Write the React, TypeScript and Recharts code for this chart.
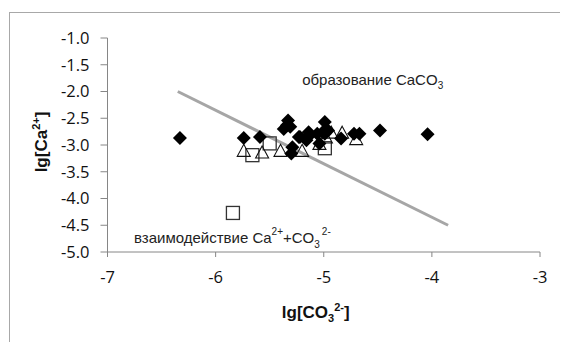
import React from 'react';
import { ScatterChart, Scatter, XAxis, YAxis, Label } from 'recharts';

const xTicks = [-7, -6, -5, -4, -3];
const yTicks = [-5.0, -4.5, -4.0, -3.5, -3.0, -2.5, -2.0, -1.5, -1.0];

const diamondX = [-6.33, -5.74, -5.59, -5.37, -5.34, -5.33, -5.31, -5.29, -5.30, -5.23, -5.22, -5.14, -5.13, -5.16, -5.06, -5.04, -4.99, -5.01, -4.96, -4.99, -4.84, -4.72, -4.67, -4.48, -4.04];
const diamondY = [-2.87, -2.87, -2.85, -2.70, -2.63, -2.54, -2.66, -3.04, -3.16, -2.85, -2.85, -2.76, -2.82, -2.91, -2.79, -2.97, -2.57, -2.76, -2.73, -2.79, -2.88, -2.79, -2.79, -2.73, -2.80];

const triangleX = [-5.74, -5.57, -5.40, -5.20, -5.04, -4.98, -4.93, -4.83, -4.70];
const triangleY = [-3.10, -3.13, -3.10, -3.10, -2.97, -2.85, -2.76, -2.76, -2.88];

const squareX = [-5.66, -5.50, -4.99, -5.84];
const squareY = [-3.19, -2.97, -3.06, -4.27];

const lineX = [-6.35, -3.85];
const lineY = [-2.0, -4.5];

const annotationX = [-5.2, -6.755];
const annotationY = [-1.88, -4.83];
const annotationKey = ['formation', 'interaction'];

const zip = (xs: number[], ys: number[]) => xs.map((x, i) => ({ x, y: ys[i] }));

const diamonds = zip(diamondX, diamondY);
const triangles = zip(triangleX, triangleY);
const squares = zip(squareX, squareY);
const lineData = zip(lineX, lineY);
const annotations = annotationX.map((x, i) => ({ x, y: annotationY[i], key: annotationKey[i] }));

const TICK_FONT = '"Open Sans", sans-serif';
const TITLE_FONT = '"Liberation Sans", Arial, sans-serif';
const ANNO_FONT = '"Liberation Sans", Arial, sans-serif';

const DiamondShape = (p: any) => {
  const { cx, cy } = p;
  const r = 7;
  return <path d={`M${cx},${cy - r}L${cx + r},${cy}L${cx},${cy + r}L${cx - r},${cy}Z`} fill="#000" />;
};

const TriangleShape = (p: any) => {
  const { cx, cy } = p;
  const w = 6.5;
  const h = 12;
  return (
    <path
      d={`M${cx},${cy - h / 2}L${cx + w},${cy + h / 2}L${cx - w},${cy + h / 2}Z`}
      fill="none"
      stroke="#111"
      strokeWidth={1.1}
    />
  );
};

const SquareShape = (p: any) => {
  const { cx, cy } = p;
  const s = 6.5;
  return <rect x={cx - s} y={cy - s} width={2 * s} height={2 * s} fill="none" stroke="#333" strokeWidth={1.3} />;
};

const AnnotationShape = (p: any) => {
  const { cx, cy, payload } = p;
  if (payload.key === 'formation') {
    return (
      <text x={cx} y={cy} fontFamily={ANNO_FONT} fontSize={15} fill="#222">
        образование CaCO<tspan dy={4} fontSize={10}>3</tspan>
      </text>
    );
  }
  return (
    <text x={cx} y={cy} fontFamily={ANNO_FONT} fontSize={15} fill="#222">
      взаимодействие Ca<tspan dy={-8} fontSize={10}>2+</tspan>
      <tspan dy={8} fontSize={15}>+CO</tspan>
      <tspan dy={5} fontSize={10}>3</tspan>
      <tspan dy={-13} dx={2} fontSize={10}>2-</tspan>
    </text>
  );
};

const XTitle = (props: any) => {
  const vb = props.viewBox;
  const x = vb.x + vb.width / 2 - 8;
  const y = vb.y + 66;
  return (
    <text x={x} y={y} textAnchor="middle" fontFamily={TITLE_FONT} fontWeight="bold" fontSize={17} fill="#111">
      lg[CO<tspan dy={4} fontSize={11}>3</tspan>
      <tspan dy={-11} fontSize={11}>2-</tspan>
      <tspan dy={7} fontSize={17}>]</tspan>
    </text>
  );
};

const YTitle = (props: any) => {
  const vb = props.viewBox;
  const x = 47;
  const y = vb.y + vb.height / 2 - 3;
  return (
    <text
      x={x}
      y={y}
      textAnchor="middle"
      transform={`rotate(-90 ${x} ${y})`}
      fontFamily={TITLE_FONT}
      fontWeight="bold"
      fontSize={17}
      fill="#111"
    >
      lg[Ca<tspan dy={-7} fontSize={11}>2+</tspan>
      <tspan dy={7} fontSize={17}>]</tspan>
    </text>
  );
};

export default function App() {
  return (
    <div
      style={{
        position: 'relative',
        marginLeft: -8,
        marginTop: -8,
        width: 568,
        height: 342,
        overflow: 'hidden',
        background: '#fff',
      }}
    >
      <div
        style={{
          position: 'absolute',
          left: 9,
          top: 12,
          width: 700,
          height: 500,
          border: '1px solid #a8a8a8',
          boxSizing: 'border-box',
        }}
      />
      <div style={{ position: 'absolute', left: 0, top: 0 }}>
        <ScatterChart width={568} height={342} margin={{ top: 38, right: 28, bottom: 30, left: 0 }}>
          <XAxis
            type="number"
            dataKey="x"
            domain={[-7, -3]}
            ticks={xTicks}
            interval={0}
            allowDataOverflow
            height={60}
            stroke="#868686"
            tickSize={5}
            tickMargin={14}
            tick={{ fontFamily: TICK_FONT, fontSize: 16.5, fill: '#111' }}
          >
            <Label content={<XTitle />} />
          </XAxis>
          <YAxis
            type="number"
            dataKey="y"
            domain={[-5, -1]}
            ticks={yTicks}
            interval={0}
            allowDataOverflow
            width={107.5}
            stroke="#868686"
            tickSize={7}
            tickMargin={11}
            tickFormatter={(v: number) => v.toFixed(1)}
            tick={{ fontFamily: TICK_FONT, fontSize: 16.5, fill: '#111' }}
          >
            <Label content={<YTitle />} />
          </YAxis>
          <Scatter
            data={lineData}
            line={{ stroke: '#a6a6a6', strokeWidth: 3 }}
            lineType="joint"
            shape={() => <g />}
            isAnimationActive={false}
          />
          <Scatter data={squares} shape={<SquareShape />} isAnimationActive={false} />
          <Scatter data={triangles} shape={<TriangleShape />} isAnimationActive={false} />
          <Scatter data={diamonds} shape={<DiamondShape />} isAnimationActive={false} />
          <Scatter data={annotations} shape={<AnnotationShape />} isAnimationActive={false} />
        </ScatterChart>
      </div>
    </div>
  );
}
